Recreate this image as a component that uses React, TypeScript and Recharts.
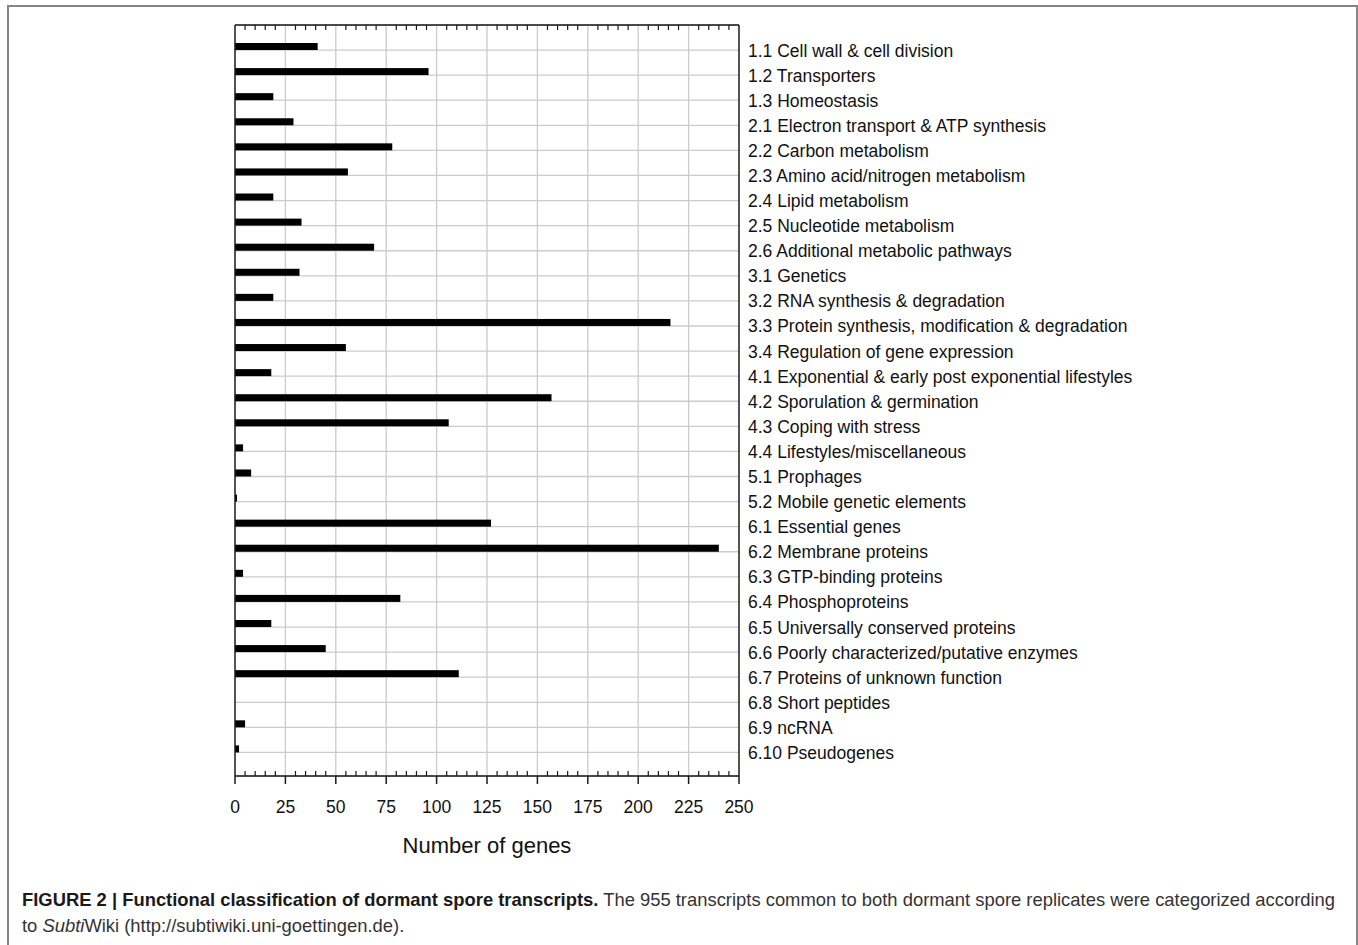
import React from "react";
import { BarChart, Bar, XAxis, YAxis, CartesianGrid, ReferenceLine } from "recharts";

const categories = [
  "1.1 Cell wall & cell division",
  "1.2 Transporters",
  "1.3 Homeostasis",
  "2.1 Electron transport & ATP synthesis",
  "2.2 Carbon metabolism",
  "2.3 Amino acid/nitrogen metabolism",
  "2.4 Lipid metabolism",
  "2.5 Nucleotide metabolism",
  "2.6 Additional metabolic pathways",
  "3.1 Genetics",
  "3.2 RNA synthesis & degradation",
  "3.3 Protein synthesis, modification & degradation",
  "3.4 Regulation of gene expression",
  "4.1 Exponential & early post exponential lifestyles",
  "4.2 Sporulation & germination",
  "4.3 Coping with stress",
  "4.4 Lifestyles/miscellaneous",
  "5.1 Prophages",
  "5.2 Mobile genetic elements",
  "6.1 Essential genes",
  "6.2 Membrane proteins",
  "6.3 GTP-binding proteins",
  "6.4 Phosphoproteins",
  "6.5 Universally conserved proteins",
  "6.6 Poorly characterized/putative enzymes",
  "6.7 Proteins of unknown function",
  "6.8 Short peptides",
  "6.9 ncRNA",
  "6.10 Pseudogenes",
];

const geneCounts = [41, 96, 19, 29, 78, 56, 19, 33, 69, 32, 19, 216, 55, 18, 157, 106, 4, 8, 1, 127, 240, 4, 82, 18, 45, 111, 0, 5, 2];

const minorTicks = [
  0, 5, 10, 15, 20, 25, 30, 35, 40, 45, 50, 55, 60, 65, 70, 75, 80, 85, 90, 95, 100,
  105, 110, 115, 120, 125, 130, 135, 140, 145, 150, 155, 160, 165, 170, 175, 180, 185, 190, 195, 200,
  205, 210, 215, 220, 225, 230, 235, 240, 245, 250,
];
const gridValues = [25, 50, 75, 100, 125, 150, 175, 200, 225];

const xAxisTitle = "Number of genes";

const data = categories.map((name, i) => ({ name, genes: geneCounts[i] }));

const FONT = "'Liberation Sans', Arial, Helvetica, sans-serif";
const AXIS_COLOR = "#1a1a1a";
const GRID_COLOR = "#cbcbcb";

const BottomTick = (props: any) => {
  const { x, y, payload } = props;
  const v = payload.value;
  if (v % 25 === 0) {
    return (
      <g>
        <line x1={x} y1={y} x2={x} y2={y + 8} stroke={AXIS_COLOR} strokeWidth={1.5} />
        <text x={x} y={y + 31} textAnchor="middle" dominantBaseline="central" fontSize={17.5} fill="#111" fontFamily={FONT}>
          {v}
        </text>
      </g>
    );
  }
  return <line x1={x} y1={y} x2={x} y2={y - 5} stroke={AXIS_COLOR} strokeWidth={1.2} />;
};

const TopTick = (props: any) => {
  const { x, y, payload } = props;
  const v = payload.value;
  if (v % 25 === 0) return <g />;
  return <line x1={x} y1={y} x2={x} y2={y + 5} stroke={AXIS_COLOR} strokeWidth={1.2} />;
};

const RightTick = (props: any) => {
  const { x, y, payload } = props;
  return (
    <text x={x + 1} y={y + 0.5} textAnchor="start" dominantBaseline="central" fontSize={17.5} fill="#111" fontFamily={FONT}>
      {payload.value}
    </text>
  );
};

const OffsetBar = (props: any) => {
  const { x, y, width, height, fill } = props;
  if (!width || width <= 0) return <g />;
  return <rect x={x} y={y - height / 2} width={width} height={height} fill={fill} />;
};

export default function App() {
  return (
    <div style={{ position: "absolute", left: 0, top: 0, width: 1358, height: 945, background: "#fff", overflow: "hidden" }}>
      <div
        style={{
          position: "absolute",
          left: 7,
          top: 5,
          width: 1347,
          height: 1000,
          border: "2px solid #858585",
        }}
      />
      <div style={{ position: "absolute", left: 0, top: 0 }}>
        <BarChart
          width={1358}
          height={945}
          data={data}
          layout="vertical"
          margin={{ top: 24, left: 235, right: 219, bottom: 89 }}
          barSize={7}
        >
          <CartesianGrid horizontal={true} vertical={true} verticalValues={gridValues} stroke={GRID_COLOR} strokeWidth={1.3} />
          <XAxis
            xAxisId="top"
            orientation="top"
            type="number"
            domain={[0, 250]}
            ticks={minorTicks}
            interval={0}
            height={1}
            tickSize={0}
            tickMargin={0}
            tickLine={false}
            axisLine={{ stroke: AXIS_COLOR, strokeWidth: 1.5 }}
            tick={<TopTick />}
            allowDataOverflow
          />
          <XAxis
            type="number"
            domain={[0, 250]}
            ticks={minorTicks}
            interval={0}
            height={80}
            tickSize={0}
            tickMargin={0}
            tickLine={false}
            axisLine={{ stroke: AXIS_COLOR, strokeWidth: 1.5 }}
            tick={<BottomTick />}
            label={{ value: xAxisTitle, position: "insideBottom", offset: 0, dy: -3, fontSize: 22, fill: "#111", fontFamily: FONT }}
          />
          <YAxis
            type="category"
            dataKey="name"
            orientation="right"
            width={400}
            interval={0}
            padding={{ top: 12.5, bottom: 11 }}
            tickLine={false}
            axisLine={{ stroke: AXIS_COLOR, strokeWidth: 1.5 }}
            tick={<RightTick />}
          />
          <ReferenceLine x={0} stroke={AXIS_COLOR} strokeWidth={1.5} />
          <Bar dataKey="genes" fill="#000" isAnimationActive={false} shape={<OffsetBar />} />
        </BarChart>
      </div>
      <div
        style={{
          position: "absolute",
          left: 22,
          top: 887,
          width: 1330,
          fontFamily: FONT,
          fontSize: 18.4,
          lineHeight: "26px",
          color: "#333",
          whiteSpace: "nowrap",
        }}
      >
        <span style={{ fontWeight: "bold", color: "#1a1a1a" }}>FIGURE 2 | Functional classification of dormant spore transcripts.</span>{" "}
        The 955 transcripts common to both dormant spore replicates were categorized according
        <br />
        to <i>Subti</i>Wiki (http://subtiwiki.uni-goettingen.de).
      </div>
    </div>
  );
}
